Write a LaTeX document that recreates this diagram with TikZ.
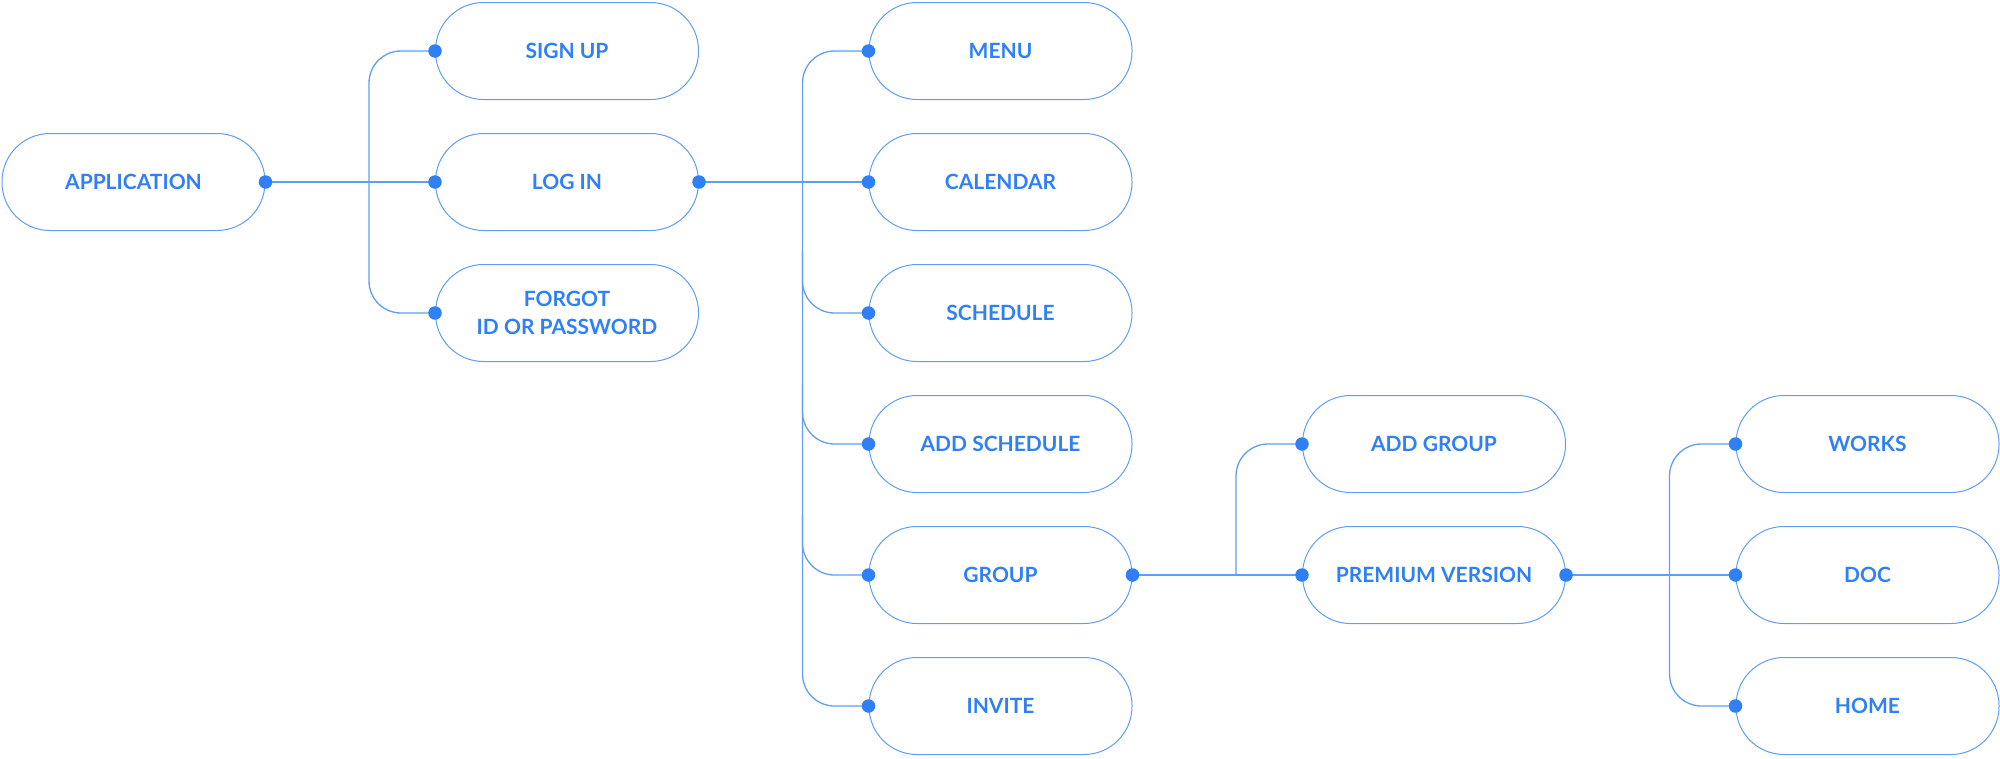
\documentclass[tikz,border=0pt]{standalone}
\usepackage{fontspec}
\setmainfont{Lato}
\usetikzlibrary{calc}
\definecolor{txtblue}{HTML}{2F80F6}
\definecolor{lineblue}{HTML}{5F9DF7}
\begin{document}
\begin{tikzpicture}[x=1pt,y=-1pt,
  pill/.style={draw=lineblue, line width=1pt, rounded corners=48pt,
    minimum width=263pt, minimum height=97pt, inner sep=0pt,
    align=center, text=txtblue, font=\fontsize{21}{28}\selectfont\bfseries},
  conn/.style={draw=lineblue, line width=1.3pt, rounded corners=32pt},
  dot/.style={fill=txtblue, circle, inner sep=0pt, minimum size=13.5pt}]
\useasboundingbox (0,0) rectangle (2000,758);
% column 0
\node[pill] (app) at (133.5,182) {APPLICATION};
% column 1
\node[pill] (signup) at (567,51) {SIGN UP};
\node[pill] (login) at (567,182) {LOG IN};
\node[pill] (forgot) at (567,313) {FORGOT\\ID OR PASSWORD};
% column 2
\node[pill] (menu) at (1000.5,51) {MENU};
\node[pill] (calendar) at (1000.5,182) {CALENDAR};
\node[pill] (schedule) at (1000.5,313) {SCHEDULE};
\node[pill] (addschedule) at (1000.5,444) {ADD SCHEDULE};
\node[pill] (group) at (1000.5,575) {GROUP};
\node[pill] (invite) at (1000.5,706) {INVITE};
% column 3
\node[pill] (addgroup) at (1434,444) {ADD GROUP};
\node[pill] (premium) at (1434,575) {PREMIUM VERSION};
% column 4
\node[pill] (works) at (1867.5,444) {WORKS};
\node[pill] (doc) at (1867.5,575) {DOC};
\node[pill] (home) at (1867.5,706) {HOME};
% bus coordinates
\coordinate (v1) at ($(login.west)+(-66,0)$);
\coordinate (v2) at ($(calendar.west)+(-66,0)$);
\coordinate (v3) at ($(premium.west)+(-66,0)$);
\coordinate (v4) at ($(doc.west)+(-66,0)$);
\coordinate (b2s) at ($(schedule.west -| v2)+(0,-60)$);
\coordinate (b2a) at ($(addschedule.west -| v2)+(0,-60)$);
\coordinate (b2g) at ($(group.west -| v2)+(0,-60)$);
% connectors
\draw[conn] (app.east) -- (login.west);
\draw[conn] (signup.west) -| (v1) |- (forgot.west);
\draw[conn] (login.east) -- (calendar.west);
\draw[conn] (menu.west) -| (v2) |- (invite.west);
\draw[conn] (b2s) |- (schedule.west);
\draw[conn] (b2a) |- (addschedule.west);
\draw[conn] (b2g) |- (group.west);
\draw[conn] (group.east) -- (premium.west);
\draw[conn] (v3) |- (addgroup.west);
\draw[conn] (premium.east) -- (doc.west);
\draw[conn] (works.west) -| (v4) |- (home.west);
% dots
\foreach \a in {app.east, signup.west, login.west, login.east, forgot.west,
  menu.west, calendar.west, schedule.west, addschedule.west, group.west,
  invite.west, group.east, addgroup.west, premium.west, premium.east,
  works.west, doc.west, home.west}
  \node[dot] at (\a) {};
\end{tikzpicture}
\end{document}
